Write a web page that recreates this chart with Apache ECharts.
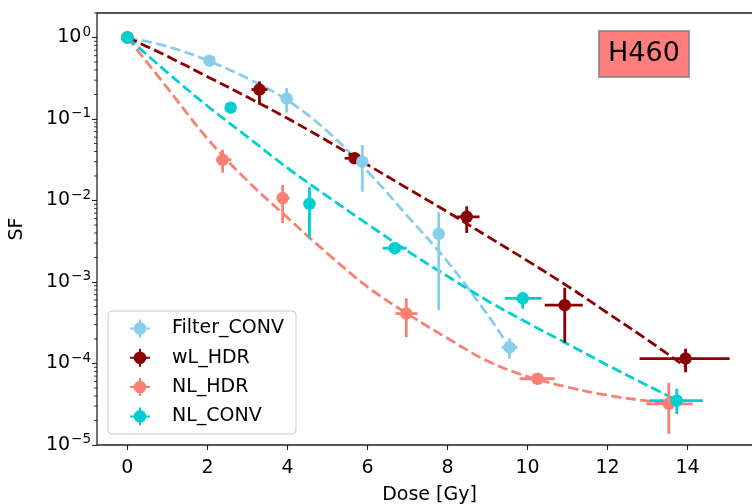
<!DOCTYPE html>
<html>
<head>
<meta charset="utf-8">
<script src="https://cdn.jsdelivr.net/npm/echarts@6/dist/echarts.min.js"></script>
<style>
  html, body { margin: 0; padding: 0; background: #fff; }
  #chart { width: 752px; height: 504px; }
</style>
</head>
<body>
<div id="chart"></div>
<script>
// Clonogenic survival of H460 cells: measured points with error bars and fitted curves.
const FONT = 'DejaVu Sans';

const seriesNames = ['Filter_CONV', 'wL_HDR', 'NL_HDR', 'NL_CONV'];
const seriesColors = ['#87CEEB', '#8B0000', '#FA8072', '#00CED1'];

// Filter_CONV measurements
const filterDose = [0, 2.05, 3.98, 5.87, 7.78, 9.55];
const filterSF   = [1.0, 0.52, 0.178, 0.030, 0.0039, 0.000158];
const filterYLo  = [null, null, 0.12, 0.0128, 0.00045, 0.000115];
const filterYHi  = [null, null, 0.24, 0.048, 0.0072, 0.000204];
const filterXLo  = [null, null, null, null, null, 9.35];
const filterXHi  = [null, null, null, null, null, 9.75];

// wL_HDR measurements
const wlDose = [0, 3.3, 5.68, 8.48, 10.93, 13.95];
const wlSF   = [1.0, 0.23, 0.033, 0.0063, 0.00052, 0.000115];
const wlYLo  = [null, 0.15, 0.029, 0.0040, 0.00018, 0.000078];
const wlYHi  = [null, 0.29, 0.038, 0.0085, 0.00085, 0.000152];
const wlXLo  = [null, 3.1, 5.43, 8.23, 10.43, 12.8];
const wlXHi  = [null, 3.5, 5.88, 8.8, 11.38, 15.05];

// NL_HDR measurements
const nlhDose = [0, 2.38, 3.88, 6.97, 10.25, 13.53];
const nlhSF   = [1.0, 0.0316, 0.0107, 0.00041, 0.000065, 0.000032];
const nlhYLo  = [null, 0.022, 0.0053, 0.00021, 0.000058, 0.0000137];
const nlhYHi  = [null, 0.042, 0.0155, 0.00063, 0.000074, 0.000058];
const nlhXLo  = [null, 2.22, 3.76, 6.7, 9.8, 12.97];
const nlhXHi  = [null, 2.6, 4.05, 7.25, 10.68, 14.13];

// NL_CONV measurements
const nlcDose = [0, 2.58, 4.55, 6.68, 9.88, 13.73];
const nlcSF   = [1.0, 0.138, 0.0091, 0.0026, 0.00063, 0.000035];
const nlcYLo  = [null, null, 0.0035, 0.0023, 0.00047, 0.000024];
const nlcYHi  = [null, null, 0.0146, 0.0030, 0.00074, 0.000049];
const nlcXLo  = [null, null, null, 6.38, 9.43, 13.05];
const nlcXHi  = [null, null, null, 6.98, 10.35, 14.38];

// Fitted survival curves
const filterFitDose = [0, 1, 2, 3, 4, 5, 6, 7, 8, 9, 9.55];
const filterFitSF   = [1, 0.776, 0.525, 0.316, 0.170, 0.0708, 0.0229, 0.00646, 0.00178, 0.000398, 0.000158];
const wlFitDose = [0, 1, 2, 3, 4, 5, 6, 7, 8, 9, 10, 11, 12, 13, 13.95];
const wlFitSF   = [1, 0.589, 0.331, 0.186, 0.102, 0.0537, 0.0275, 0.0141, 0.00724, 0.00363, 0.00182, 0.000891, 0.000417, 0.000195, 0.0000912];
const nlhFitDose = [0, 1, 2, 3, 4, 5, 6, 7, 8, 9, 10, 11, 12, 13, 13.53];
const nlhFitSF   = [1, 0.240, 0.0575, 0.0174, 0.00617, 0.00224, 0.000871, 0.000407, 0.000204, 0.000107, 0.0000692, 0.0000513, 0.0000407, 0.0000347, 0.0000331];
const nlcFitDose = [0, 1, 2, 3, 4, 5, 6, 7, 8, 9, 10, 11, 12, 13, 13.73];
const nlcFitSF   = [1, 0.3715, 0.1445, 0.0603, 0.0251, 0.01122, 0.00513, 0.00240, 0.001175, 0.000589, 0.000316, 0.000174, 0.0000955, 0.0000537, 0.0000355];

// Axis ticks
const xTicks = [0, 2, 4, 6, 8, 10, 12, 14];
const yMajorTicks = [1e-5, 1e-4, 1e-3, 1e-2, 1e-1, 1];
const yMinorTicks = [
  2e-5, 3e-5, 4e-5, 5e-5, 6e-5, 7e-5, 8e-5, 9e-5,
  2e-4, 3e-4, 4e-4, 5e-4, 6e-4, 7e-4, 8e-4, 9e-4,
  2e-3, 3e-3, 4e-3, 5e-3, 6e-3, 7e-3, 8e-3, 9e-3,
  2e-2, 3e-2, 4e-2, 5e-2, 6e-2, 7e-2, 8e-2, 9e-2,
  2e-1, 3e-1, 4e-1, 5e-1, 6e-1, 7e-1, 8e-1, 9e-1,
  2
];

const X_MIN = -0.76, X_MAX = 15.86;
const Y_MIN = 1e-5, Y_MAX = 2;

const groups = [
  { name: 'Filter_CONV', color: seriesColors[0], dose: filterDose, sf: filterSF, yLo: filterYLo, yHi: filterYHi, xLo: filterXLo, xHi: filterXHi, fitDose: filterFitDose, fitSF: filterFitSF },
  { name: 'wL_HDR', color: seriesColors[1], dose: wlDose, sf: wlSF, yLo: wlYLo, yHi: wlYHi, xLo: wlXLo, xHi: wlXHi, fitDose: wlFitDose, fitSF: wlFitSF },
  { name: 'NL_HDR', color: seriesColors[2], dose: nlhDose, sf: nlhSF, yLo: nlhYLo, yHi: nlhYHi, xLo: nlhXLo, xHi: nlhXHi, fitDose: nlhFitDose, fitSF: nlhFitSF },
  { name: 'NL_CONV', color: seriesColors[3], dose: nlcDose, sf: nlcSF, yLo: nlcYLo, yHi: nlcYHi, xLo: nlcXLo, xHi: nlcXHi, fitDose: nlcFitDose, fitSF: nlcFitSF }
];

// marker stacking: later entries are painted on top
const markerOrder = [1, 0, 2, 3];

const LW = 2.8;
const axisColor = '#222';

function markerSeries(g) {
  return {
    type: 'scatter', name: g.name, z: 4,
    symbol: 'circle', symbolSize: 12.5,
    itemStyle: { color: g.color, opacity: 1 },
    data: g.dose.map((d, i) => [d, g.sf[i]]),
    emphasis: { disabled: true },
    silent: true
  };
}

function errorBarSeries(g) {
  return {
    type: 'custom', name: g.name, z: 3, silent: true, clip: false,
    itemStyle: { color: g.color },
    data: g.dose.map((d, i) => [d, g.sf[i]]),
    encode: { x: 0, y: 1 },
    renderItem: function (params, api) {
      const i = params.dataIndex;
      const style = { stroke: g.color, lineWidth: LW, fill: null };
      const children = [];
      if (g.yLo[i] != null) {
        const a = api.coord([g.dose[i], g.yLo[i]]);
        const b = api.coord([g.dose[i], g.yHi[i]]);
        children.push({ type: 'line', shape: { x1: a[0], y1: a[1], x2: b[0], y2: b[1] }, style: style });
      }
      if (g.xLo[i] != null) {
        const a = api.coord([g.xLo[i], g.sf[i]]);
        const b = api.coord([g.xHi[i], g.sf[i]]);
        children.push({ type: 'line', shape: { x1: a[0], y1: a[1], x2: b[0], y2: b[1] }, style: style });
      }
      return { type: 'group', children: children };
    }
  };
}

function fitSeries(g) {
  return {
    type: 'line', name: g.name, z: 2,
    showSymbol: false, symbol: 'none',
    smooth: 0.35,
    lineStyle: { color: g.color, width: LW, type: [10.3, 4.4], cap: 'butt' },
    data: g.fitDose.map((d, i) => [d, g.fitSF[i]]),
    emphasis: { disabled: true },
    silent: true
  };
}

// minor ticks of the log axis, drawn just outside the left frame
const minorTickSeries = {
  type: 'custom', name: 'minor ticks', z: 5, silent: true, clip: false,
  data: yMinorTicks.map(v => [X_MIN, v]),
  encode: { x: 0, y: 1 },
  renderItem: function (params, api) {
    const p = api.coord([X_MIN, yMinorTicks[params.dataIndex]]);
    return { type: 'line', shape: { x1: p[0] - 3, y1: p[1], x2: p[0], y2: p[1] }, style: { stroke: axisColor, lineWidth: 0.9 } };
  }
};

// legend handle: filled circle crossed by error bars
const crossIcon = 'path://M-10,-1 L10,-1 L10,1 L-10,1 Z M-1,-9 L1,-9 L1,9 L-1,9 Z M6.3,0 A6.3,6.3 0 1 1 -6.3,0 A6.3,6.3 0 1 1 6.3,0 Z';

function powLabel(v) {
  const e = Math.round(Math.log10(v));
  return '{b|10}{s|' + (e < 0 ? '\u2212' + (-e) : String(e)) + '}';
}

const series = []
  .concat(markerOrder.map(k => markerSeries(groups[k])))
  .concat(groups.map(errorBarSeries))
  .concat(groups.map(fitSeries))
  .concat([minorTickSeries]);

const option = {
  animation: false,
  backgroundColor: '#fff',
  textStyle: { fontFamily: FONT },
  title: {
    text: 'H460',
    left: 599, top: 31,
    padding: [9, 9, 9, 9],
    backgroundColor: '#FF7F7F',
    borderColor: '#808080',
    borderWidth: 1.5,
    textStyle: { fontFamily: FONT, fontSize: 27, fontWeight: 'normal', color: '#000', lineHeight: 28 }
  },
  grid: {
    left: 97, top: 13, width: 665, height: 432,
    outerBoundsMode: 'none',
    containLabel: false,
    show: true, borderColor: axisColor, borderWidth: 1.3, backgroundColor: 'transparent'
  },
  legend: {
    orient: 'vertical',
    left: 108, top: 311,
    padding: [8, 12, 8, 22],
    itemWidth: 20, itemHeight: 18, itemGap: 10.3,
    backgroundColor: 'rgba(255,255,255,0.8)',
    borderColor: '#cccccc', borderWidth: 1, borderRadius: 4,
    selectedMode: false,
    textStyle: { fontFamily: FONT, fontSize: 19, color: '#000', lineHeight: 19, padding: [0, 0, 0, 17] },
    data: seriesNames.map(n => ({ name: n, icon: crossIcon }))
  },
  xAxis: {
    type: 'value',
    min: X_MIN, max: X_MAX,
    name: 'Dose [Gy]', nameLocation: 'middle', nameGap: 41,
    nameTextStyle: { fontFamily: FONT, fontSize: 19, color: '#000' },
    axisLine: { show: false, onZero: false },
    splitLine: { show: false },
    axisTick: { show: true, length: 5, customValues: xTicks, lineStyle: { color: axisColor, width: 1.1 } },
    axisLabel: { customValues: xTicks, margin: 14, fontFamily: FONT, fontSize: 19, color: '#000' }
  },
  yAxis: {
    type: 'log', logBase: 10,
    min: Y_MIN, max: Y_MAX,
    name: 'SF', nameLocation: 'middle', nameGap: 70,
    nameTextStyle: { fontFamily: FONT, fontSize: 19, color: '#000' },
    axisLine: { show: false, onZero: false },
    splitLine: { show: false },
    axisTick: { show: true, length: 5, customValues: yMajorTicks, lineStyle: { color: axisColor, width: 1.1 } },
    axisLabel: {
      customValues: yMajorTicks, margin: 6,
      formatter: powLabel,
      rich: {
        b: { fontFamily: FONT, fontSize: 19, color: '#000', lineHeight: 19, verticalAlign: 'bottom' },
        s: { fontFamily: FONT, fontSize: 13.5, color: '#000', lineHeight: 13, padding: [0, 0, 8, 1], verticalAlign: 'bottom' }
      }
    }
  },
  series: series
};

const chart = echarts.init(document.getElementById('chart'), null, { renderer: 'canvas' });
chart.setOption(option);
</script>
</body>
</html>
